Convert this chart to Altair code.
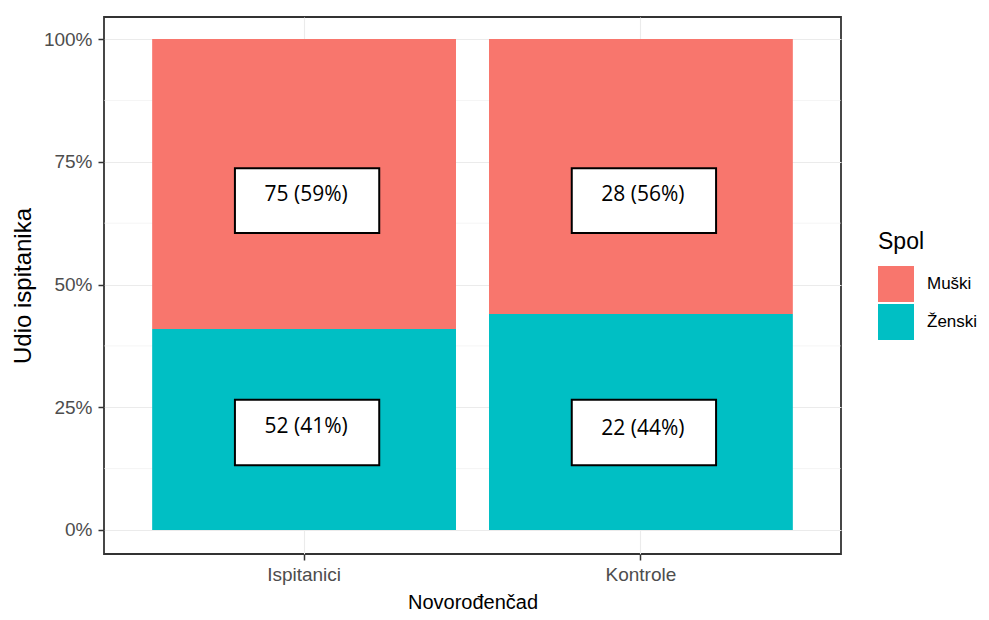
import altair as alt
import pandas as pd

groups = ["Ispitanici", "Ispitanici", "Kontrole", "Kontrole"]
spol = ["Muški", "Ženski", "Muški", "Ženski"]
counts = [75, 52, 28, 22]
stack_order = [1, 0, 1, 0]
labels = ["75 (59%)", "52 (41%)", "28 (56%)", "22 (44%)"]
label_y = [0.682, 0.21, 0.682, 0.205]
box_lo = [0.605, 0.132, 0.605, 0.132]
box_hi = [0.737, 0.265, 0.737, 0.265]
y_ticks = [0, 0.25, 0.5, 0.75, 1.0]
y_minor = [0.125, 0.375, 0.625, 0.875]
spol_domain = ["Muški", "Ženski"]
spol_colors = ["#F8766D", "#00BFC4"]

df = pd.DataFrame({
    "grupa": groups, "spol": spol, "n": counts, "ord": stack_order,
    "label": labels, "ly": label_y, "blo": box_lo, "bhi": box_hi,
})
minor_df = pd.DataFrame({"v": y_minor})

FONT = "Liberation Sans"
xscale = alt.Scale(paddingInner=0.098, paddingOuter=0.143)
yscale = alt.Scale(domain=[-0.049, 1.045], nice=False, zero=False)

x_enc = alt.X(
    "grupa:N", scale=xscale, title="Novorođenčad",
    axis=alt.Axis(labelAngle=0, grid=True, bandPosition=0.5, gridColor="#EBEBEB",
                  gridWidth=1.1, titlePadding=8, labelPadding=5),
)

minor = alt.Chart(minor_df).mark_rule(color="#EBEBEB", strokeWidth=0.55).encode(
    y=alt.Y("v:Q", scale=yscale)
)

bars = alt.Chart(df).mark_bar().encode(
    x=x_enc,
    y=alt.Y("n:Q", stack="normalize", scale=yscale, title="Udio ispitanika",
            axis=alt.Axis(values=y_ticks, format=".0%", grid=True, gridColor="#EBEBEB",
                          gridWidth=1.1, titlePadding=8, labelPadding=6)),
    color=alt.Color("spol:N", title="Spol",
                    scale=alt.Scale(domain=spol_domain, range=spol_colors),
                    legend=alt.Legend(orient="none", legendX=774, legendY=214)),
    order=alt.Order("ord:Q", sort="ascending"),
)

boxes = alt.Chart(df).mark_bar(
    fill="white", stroke="black", strokeWidth=2, width=alt.RelativeBandSize(0.475),
    xOffset=3,
).encode(
    x=alt.X("grupa:N", scale=xscale),
    y=alt.Y("blo:Q", scale=yscale),
    y2="bhi:Q",
)

texts = alt.Chart(df).mark_text(
    font="Open Sans", fontSize=21, color="black", baseline="middle", align="center", dx=2
).encode(
    x=alt.X("grupa:N", scale=xscale),
    y=alt.Y("ly:Q", scale=yscale),
    text="label:N",
)

chart = alt.layer(minor, bars, boxes, texts).properties(
    width=737, height=537,
    autosize=alt.AutoSizeParams(type="none"),
    padding={"left": 96, "top": 9, "right": 138, "bottom": 58},
    background="white",
).configure_view(
    stroke="#333333", strokeWidth=1.8
).configure_axis(
    domain=False, tickColor="#333333", tickWidth=1.5, tickSize=6,
    labelFont=FONT, labelFontSize=19, labelColor="#4D4D4D",
    titleFont=FONT, titleFontSize=20, titleColor="black", titleFontWeight="normal",
).configure_axisY(
    titleFontSize=24
).configure_legend(
    titleFont=FONT, titleFontSize=23, titleColor="black", titleFontWeight="normal",
    titlePadding=12,
    labelFont=FONT, labelFontSize=17, labelColor="black", labelOffset=13, labelLimit=200,
    symbolType="square", symbolSize=1296, symbolStrokeWidth=0, symbolOpacity=1,
    rowPadding=2,
)

chart.save("out.html", embed_options={"renderer": "svg", "actions": False})
